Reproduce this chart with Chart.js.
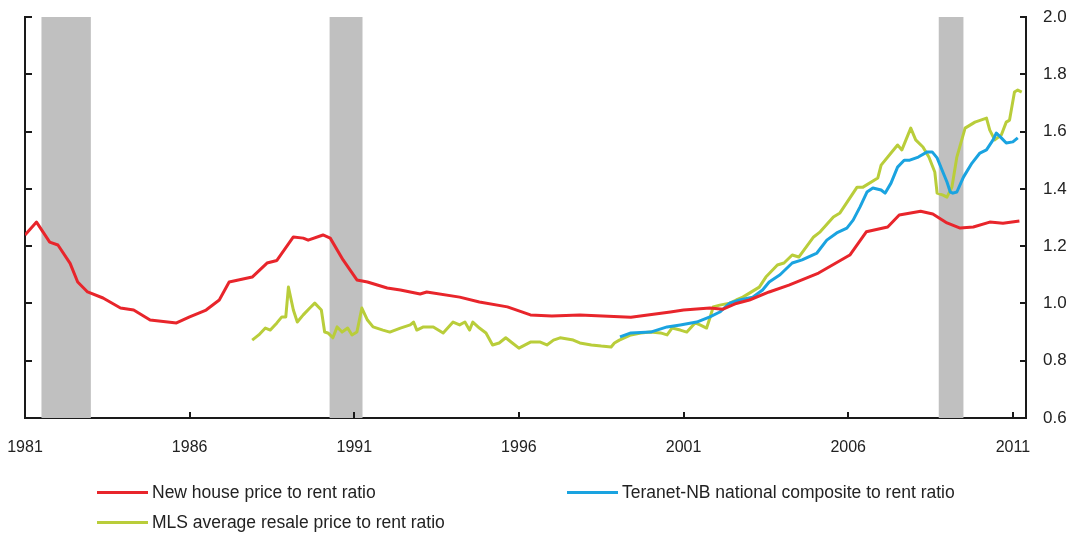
<!DOCTYPE html>
<html><head><meta charset="utf-8">
<script src="https://cdn.jsdelivr.net/npm/chart.js@4.4.1/dist/chart.umd.min.js"></script>
<style>
html,body{margin:0;padding:0;background:#fff;}
#wrap{position:relative;width:1073px;height:548px;overflow:hidden;}
#c{position:absolute;left:0;top:0;}
.lg{position:absolute;font-family:"Liberation Sans",Arial,sans-serif;font-size:17.5px;line-height:20px;color:#222;white-space:nowrap;}
.lg.sw{height:3px;}
</style></head>
<body><div id="wrap"><canvas id="c" width="1073" height="548" style="width:1073px;height:548px"></canvas><div id="legend"></div></div>
<script>
// ---- Data ----
const newHouseYears = [1981.0,1981.35,1981.75,1982.0,1982.37,1982.6,1982.9,1983.37,1983.9,1984.3,1984.8,1985.6,1986.0,1986.5,1986.9,1987.2,1987.9,1988.35,1988.65,1989.15,1989.45,1989.6,1990.05,1990.27,1990.66,1991.08,1991.4,1992.0,1992.4,1993.0,1993.2,1994.2,1994.8,1995.65,1996.35,1997.0,1997.85,1999.4,2000.6,2001.0,2001.8,2002.2,2002.6,2003.0,2003.6,2004.2,2005.1,2006.05,2006.55,2007.2,2007.55,2008.2,2008.57,2009.0,2009.4,2009.8,2010.3,2010.7,2011.2];
const newHouseValues = [1.239,1.284,1.214,1.204,1.14,1.075,1.04,1.019,0.984,0.977,0.942,0.932,0.953,0.977,1.012,1.075,1.092,1.141,1.15,1.232,1.228,1.221,1.239,1.228,1.152,1.082,1.075,1.054,1.047,1.033,1.04,1.022,1.005,0.988,0.96,0.956,0.96,0.952,0.97,0.977,0.984,0.98,1.0,1.012,1.04,1.064,1.106,1.169,1.25,1.267,1.309,1.322,1.312,1.281,1.263,1.267,1.284,1.28,1.288];

const teranetYears = [1999.07,1999.4,2000.0,2000.5,2000.9,2001.4,2001.8,2002.1,2002.4,2002.7,2003.1,2003.4,2003.6,2003.93,2004.3,2004.6,2005.05,2005.35,2005.65,2005.96,2006.15,2006.36,2006.57,2006.75,2007.0,2007.12,2007.3,2007.5,2007.7,2007.87,2008.13,2008.4,2008.55,2008.7,2008.85,2009.0,2009.1,2009.18,2009.3,2009.5,2009.76,2010.0,2010.2,2010.4,2010.5,2010.65,2010.8,2011.0,2011.15];
const teranetValues = [0.883,0.897,0.9,0.918,0.925,0.935,0.953,0.97,1.001,1.012,1.022,1.047,1.075,1.1,1.141,1.152,1.176,1.221,1.246,1.263,1.291,1.337,1.389,1.403,1.396,1.385,1.42,1.476,1.5,1.5,1.511,1.529,1.529,1.508,1.466,1.424,1.389,1.385,1.389,1.441,1.49,1.525,1.536,1.571,1.595,1.578,1.56,1.564,1.578];

const mlsYears = [1987.9,1988.1,1988.3,1988.45,1988.65,1988.8,1988.92,1989.0,1989.15,1989.27,1989.45,1989.65,1989.8,1990.0,1990.1,1990.2,1990.35,1990.48,1990.63,1990.8,1990.93,1991.08,1991.23,1991.4,1991.57,1991.87,1992.08,1992.4,1992.7,1992.8,1992.9,1993.1,1993.4,1993.7,1994.0,1994.2,1994.36,1994.5,1994.6,1994.8,1995.0,1995.2,1995.4,1995.6,1995.8,1996.0,1996.35,1996.65,1996.85,1997.05,1997.25,1997.65,1997.85,1998.2,1998.5,1998.8,1998.9,1999.05,1999.4,1999.7,2000.0,2000.3,2000.5,2000.65,2000.9,2001.1,2001.35,2001.5,2001.7,2001.8,2001.9,2002.1,2002.4,2002.6,2002.8,2003.0,2003.3,2003.5,2003.85,2004.05,2004.3,2004.5,2004.95,2005.15,2005.55,2005.75,2006.27,2006.45,2006.9,2007.0,2007.3,2007.5,2007.63,2007.9,2008.05,2008.27,2008.45,2008.63,2008.7,2008.88,2009.0,2009.15,2009.3,2009.55,2009.85,2010.2,2010.3,2010.45,2010.65,2010.8,2010.9,2011.05,2011.15,2011.27];
const mlsValues = [0.872,0.89,0.914,0.907,0.932,0.953,0.953,1.057,0.977,0.935,0.96,0.984,1.001,0.977,0.9,0.897,0.88,0.918,0.9,0.914,0.89,0.9,0.984,0.942,0.918,0.907,0.9,0.914,0.925,0.935,0.907,0.918,0.918,0.897,0.935,0.925,0.935,0.907,0.935,0.914,0.897,0.855,0.862,0.88,0.862,0.844,0.865,0.865,0.855,0.872,0.88,0.872,0.862,0.855,0.851,0.848,0.862,0.872,0.89,0.897,0.9,0.897,0.89,0.914,0.907,0.9,0.932,0.925,0.914,0.949,0.988,0.994,1.001,1.012,1.022,1.036,1.057,1.092,1.134,1.141,1.169,1.162,1.232,1.25,1.302,1.316,1.406,1.406,1.438,1.483,1.525,1.553,1.536,1.612,1.571,1.546,1.511,1.459,1.385,1.378,1.371,1.406,1.511,1.612,1.633,1.647,1.605,1.571,1.588,1.633,1.64,1.738,1.745,1.738];

const recessionStarts = [1981.5, 1990.25, 2008.75];
const recessionEnds = [1983.0, 1991.25, 2009.5];
const xTickYears = [1981,1986,1991,1996,2001,2006,2011];
const seriesLabels = ['New house price to rent ratio','Teranet-NB national composite to rent ratio','MLS average resale price to rent ratio'];

// ---- Styles ----
const RED = '#e8252b', BLUE = '#1aa3e0', GREEN = '#b9cd3a';
const FONT = '"Liberation Sans", Arial, sans-serif';
const pts = (xs, ys) => xs.map((x, i) => ({x, y: ys[i]}));

const recessionPlugin = {
  id: 'recessions',
  beforeDatasetsDraw(chart) {
    const {ctx, chartArea: a, scales: {x}} = chart;
    ctx.save();
    ctx.fillStyle = '#c0c0c0';
    recessionStarts.forEach((s, i) => {
      const x0 = x.getPixelForValue(s), x1 = x.getPixelForValue(recessionEnds[i]);
      ctx.fillRect(x0, a.top, x1 - x0, a.bottom - a.top);
    });
    ctx.restore();
  }
};
const tickPlugin = {
  id: 'inTicks',
  afterDraw(chart) {
    const {ctx, chartArea: a, scales} = chart;
    ctx.save();
    ctx.strokeStyle = '#1a1a1a';
    ctx.lineWidth = 2;
    ctx.beginPath();
    scales.x.ticks.forEach(t => {
      const px = Math.round(scales.x.getPixelForValue(t.value));
      if (px - a.left < 3) return;
      ctx.moveTo(px, a.bottom); ctx.lineTo(px, a.bottom - 6);
    });
    scales.y.ticks.forEach(t => {
      const py = Math.round(scales.y.getPixelForValue(t.value));
      ctx.moveTo(a.right, py); ctx.lineTo(a.right - 6, py);
      ctx.moveTo(a.left, py); ctx.lineTo(a.left + 7, py);
    });
    ctx.stroke();
    ctx.restore();
  }
};

const ds = (label, data, color) => ({label, data, borderColor: color, backgroundColor: color, borderWidth: 3, pointRadius: 0, tension: 0, borderJoinStyle: 'round', fill: false});

const chart = new Chart(document.getElementById('c'), {
  type: 'line',
  data: {datasets: [
    ds(seriesLabels[0], pts(newHouseYears, newHouseValues), RED),
    ds(seriesLabels[1], pts(teranetYears, teranetValues), BLUE),
    ds(seriesLabels[2], pts(mlsYears, mlsValues), GREEN)
  ]},
  options: {
    responsive: false, animation: false,
    layout: {padding: {top: 17, left: 0, right: 0, bottom: 0}},
    plugins: {legend: {display: false}, tooltip: {enabled: false}},
    scales: {
      x: {
        type: 'linear', min: 1981, max: 2011.4,
        grid: {display: false, drawTicks: false},
        border: {display: true, color: '#1a1a1a', width: 2},
        afterBuildTicks: s => { s.ticks = xTickYears.map(v => ({value: v})); },
        afterFit: s => { s.height = 548 - 418; s.paddingLeft = 0; s.paddingRight = 0; },
        ticks: {font: {family: FONT, size: 16}, color: '#222', padding: 20, maxRotation: 0, autoSkip: false, callback: v => String(v)}
      },
      y: {
        position: 'right', min: 0.6, max: 2.0,
        grid: {display: false, drawTicks: false},
        border: {display: true, color: '#1a1a1a', width: 2},
        afterFit: s => { s.width = 1073 - 1026; s.paddingTop = 0; s.paddingBottom = 0; },
        ticks: {stepSize: 0.2, font: {family: FONT, size: 17}, color: '#222', padding: 17, callback: v => v.toFixed(1)}
      },
      yL: {
        position: 'left', min: 0.6, max: 2.0,
        grid: {display: false, drawTicks: false},
        border: {display: true, color: '#1a1a1a', width: 2},
        afterFit: s => { s.width = 25; s.paddingTop = 0; s.paddingBottom = 0; },
        ticks: {display: false, stepSize: 0.2}
      }
    }
  },
  plugins: [recessionPlugin, tickPlugin]
});

// ---- HTML legend built from datasets ----
const legendPos = [[97, 492], [567, 492], [97, 522]];
const legend = document.getElementById('legend');
chart.data.datasets.forEach((d, i) => {
  const [lx, ly] = legendPos[i];
  const sw = document.createElement('div');
  sw.className = 'lg sw';
  sw.style.left = lx + 'px'; sw.style.top = (ly - 1.5) + 'px';
  sw.style.width = '51px'; sw.style.background = d.borderColor;
  legend.appendChild(sw);
  const t = document.createElement('div');
  t.className = 'lg';
  t.style.left = (lx + 55) + 'px'; t.style.top = (ly - 10) + 'px';
  t.textContent = d.label;
  legend.appendChild(t);
});
</script>
</body></html>
